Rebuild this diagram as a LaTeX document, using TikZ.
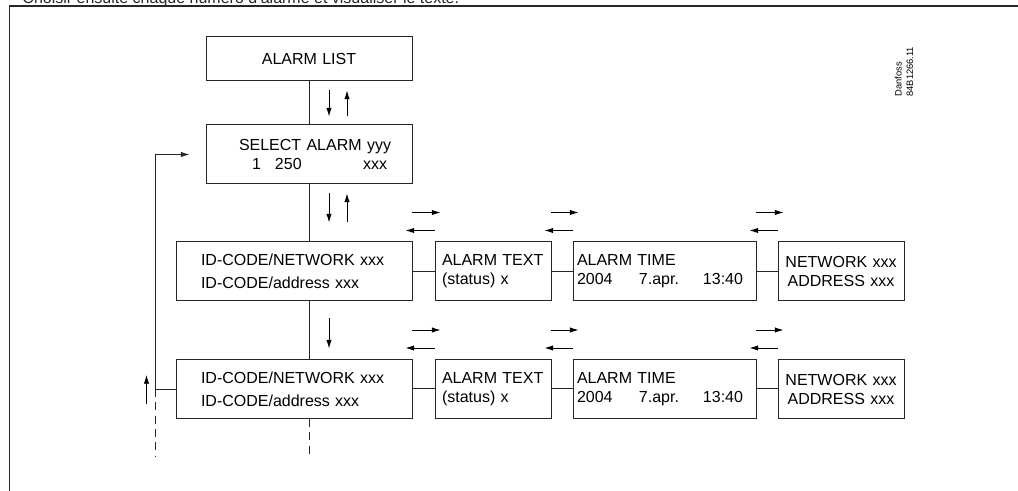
\documentclass[tikz,border=0pt]{standalone}
\usepackage{fontspec}
\setmainfont{Liberation Sans}
\usetikzlibrary{calc,arrows.meta}

\begin{document}
\begin{tikzpicture}[x=0.75pt, y=-0.75pt, line width=0.75pt,
  box/.style={draw=black!85, inner sep=0pt, align=left, minimum height=44.25pt, font=\fontsize{12}{14.25}\selectfont},
  arr/.style={-{Latex[length=6.5pt,width=4pt]}, line width=0.6pt},
  dash line/.style={dash pattern=on 6pt off 4pt}]
\useasboundingbox (0,0) rectangle (1018,491);
\clip (0,0) rectangle (1018,491);
% page heading (cut by the frame) and frame
\node[anchor=base west, inner sep=0pt, font=\fontsize{12}{14}\selectfont, text=black!85] (title) at (22,3.5) {Choisir ensuite chaque numéro d'alarme et visualiser le texte.};
\draw[black!85] (9,491) -- (9,6);
\draw[black!85, line width=1.4pt] (9,6) -- (1018,6);
\node[rotate=90, anchor=west, align=left, inner sep=0pt, font=\fontsize{7}{8.5}\selectfont] (stamp) at (904,97) {Danfoss\\84B1266.11};

\begin{scope}[every node/.style={box}]
\node[text width=154.5pt, align=center, minimum height=33pt] (list) at (309,59) {ALARM LIST};
\node[text width=154.5pt] (sel) at (309,154.5) {\hspace*{24.75pt}SELECT ALARM yyy\\
  \hspace*{34.5pt}\makebox[17.25pt][l]{1}\makebox[66pt][l]{250}xxx};
\foreach \row/\y in {1/271.5, 2/389}{
  \node[text width=177pt] (id\row) at (294,\y) {\hspace*{18.75pt}ID-CODE/NETWORK xxx\\[3pt]
    \hspace*{18.75pt}ID-CODE/address xxx};
  \node[text width=87pt] (txt\row) at (493,\y) {\hspace*{5.25pt}ALARM TEXT\\ \hspace*{5.25pt}(status) x};
  \node[text width=137.25pt] (tim\row) at (664.5,\y) {\hspace*{3pt}ALARM TIME\\
    \hspace*{3pt}\makebox[46.5pt][l]{2004}\makebox[48pt][l]{7.apr.}13:40};
  \node[text width=94.5pt, align=center] (net\row) at (841,\y) {NETWORK xxx\\ADDRESS xxx};
}
\end{scope}

% main column
\draw[black!85] (list.south) -- (sel.north);
\draw[black!85] (sel.south) -- (sel.south |- id1.north);
\draw[black!85] (sel.south |- id1.south) -- (sel.south |- id2.north);
\draw[black!85, dash line] (sel.south |- id2.south) -- ++(0,39);
\draw[arr] ($(list.south)+(20,9)$) -- ++(0,26);
\draw[arr] ($(list.south)+(38,35)$) -- ++(0,-26);
\draw[arr] ($(sel.south)+(20,9)$) -- ++(0,29);
\draw[arr] ($(sel.south)+(38,38)$) -- ++(0,-29);
\draw[arr] ($(sel.south |- id1.south)+(20,17)$) -- ++(0,30);

% back to select
\coordinate (back) at ($(sel.west)+(-16,0)$);
\draw[black!85, arr] (id2.west) -- ++(-20,0) coordinate (corner) |- (back);
\draw[black!85, dash line] (corner) -- ++(0,68);
\draw[arr] ($(corner)+(-9,15)$) -- ++(0,-29);

% rows
\foreach \row in {1,2}{
  \foreach \a/\b in {id/txt, txt/tim, tim/net}{
    \draw[black!85] (\a\row) -- (\b\row);
    \draw[arr] ($(\a\row.north east)+(-1,-29)$) -- ($(\b\row.north west)+(6,-29)$);
    \draw[arr] ($(\b\row.north west)+(0,-11)$) -- ($(\a\row.north east)+(-7,-11)$);
  }
}
\end{tikzpicture}
\end{document}
